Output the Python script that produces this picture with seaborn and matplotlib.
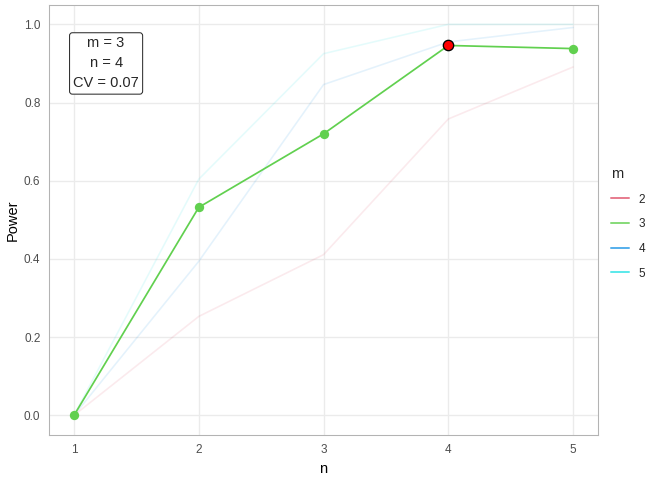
import pandas as pd
import matplotlib
matplotlib.use("Agg")
import matplotlib.pyplot as plt
import seaborn as sns
from matplotlib.lines import Line2D

# Dados
n_vals = [1, 2, 3, 4, 5]
power_m2 = [0.0, 0.253, 0.411, 0.758, 0.891]
power_m3 = [0.0, 0.532, 0.720, 0.946, 0.938]
power_m4 = [0.0, 0.394, 0.846, 0.955, 0.992]
power_m5 = [0.0, 0.604, 0.925, 1.0, 1.0]
m_levels = ["2", "3", "4", "5"]
cores = ["#DF536B", "#61D04F", "#2297E6", "#28E2E5"]
destaque_m = "3"
destaque_n = 4
destaque_power = 0.946
texto_caixa = "m = 3\nn = 4\nCV = 0.07"

df = pd.concat([
    pd.DataFrame({"n": n_vals, "Power": p, "m": m})
    for p, m in zip([power_m2, power_m3, power_m4, power_m5], m_levels)
])
paleta = dict(zip(m_levels, cores))

sns.set_style("whitegrid")
plt.rcParams["font.family"] = ["Liberation Sans", "DejaVu Sans"]

fig = plt.figure(figsize=(7, 5), dpi=96)
ax = fig.add_axes([0.073, 0.094, 0.817, 0.896])

# Linhas de fundo (transparentes)
fundo = df[df["m"] != destaque_m]
sns.lineplot(data=fundo, x="n", y="Power", hue="m", palette=paleta,
             alpha=0.12, linewidth=1.2, legend=False, ax=ax)

# Linha em destaque
sel = df[df["m"] == destaque_m]
sns.lineplot(data=sel, x="n", y="Power", color=paleta[destaque_m],
             linewidth=1.3, marker="o", markersize=7, markeredgewidth=0,
             legend=False, ax=ax)
ax.scatter([destaque_n], [destaque_power], s=60, color="red",
           edgecolor="black", linewidth=1, zorder=5)

ax.text(1.257, 0.90, texto_caixa, ha="center", va="center", fontsize=11,
        linespacing=1.55,
        bbox=dict(boxstyle="round,pad=0.25,rounding_size=0.2", fc="white",
                  ec="#333333", lw=0.8))

ax.set_xlim(0.8, 5.2)
ax.set_ylim(-0.05, 1.05)
ax.set_xticks(n_vals)
ax.set_yticks([0.0, 0.2, 0.4, 0.6, 0.8, 1.0])
ax.set_yticklabels(["0.0", "0.2", "0.4", "0.6", "0.8", "1.0"])
ax.set_xlabel("n", fontsize=11, color="black", labelpad=5)
ax.set_ylabel("Power", fontsize=11, color="black", labelpad=3)
ax.tick_params(axis="both", labelsize=8.8, labelcolor="#4D4D4D", colors="#B3B3B3",
               length=3, width=0.8)
ax.tick_params(axis="both", labelcolor="#4D4D4D")
ax.grid(True, color="#EBEBEB", linewidth=1)
for s in ax.spines.values():
    s.set_edgecolor("#B3B3B3")
    s.set_linewidth(0.8)

handles = [Line2D([], [], color=c, linewidth=1.5, alpha=0.75) for c in cores]
leg = fig.legend(handles, m_levels, title="m", loc="center left",
                 bbox_to_anchor=(0.893, 0.535), frameon=False, fontsize=8.8,
                 title_fontsize=11, handlelength=1.6, labelspacing=1.08,
                 alignment="left")

fig.savefig("out.png", dpi=96)
